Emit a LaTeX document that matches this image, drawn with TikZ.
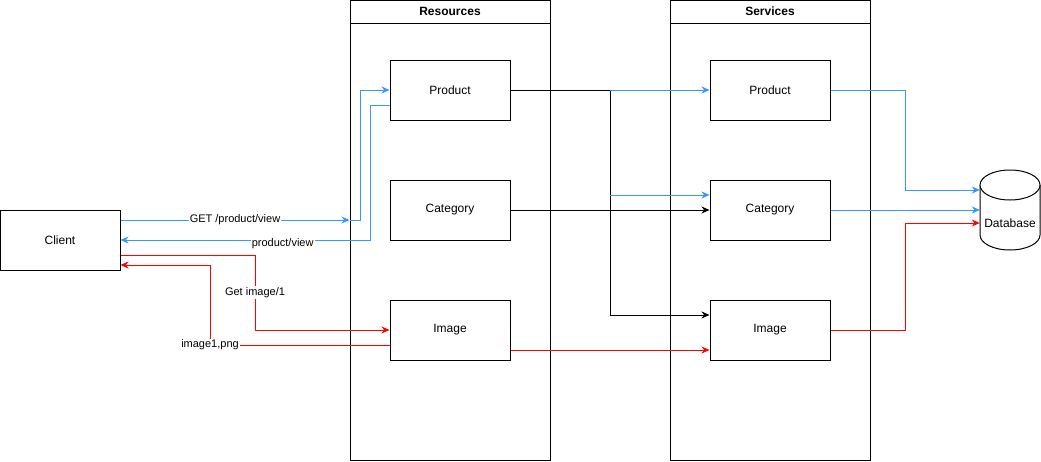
\documentclass[tikz,border=0pt]{standalone}
\usepackage{fontspec}
\setmainfont{Liberation Sans}
\usetikzlibrary{arrows.meta}
\definecolor{reqblue}{RGB}{51,153,255}
\definecolor{imgred}{RGB}{255,0,0}
\tikzset{
    box/.style = {draw, line width=1pt, minimum width=120pt, minimum height=60pt, inner sep=0pt, font=\fontsize{12}{14}\selectfont},
    pool/.style = {draw, line width=1pt, minimum width=200pt, minimum height=460pt, inner sep=0pt},
    poolhead/.style = {draw, line width=1pt, minimum width=200pt, minimum height=23pt, inner sep=0pt, font=\fontsize{12}{14}\selectfont\bfseries},
    lbl/.style = {fill=white, inner sep=1pt, font=\fontsize{11}{13}\selectfont},
    conn/.style = {line width=1pt, -{Stealth[length=8pt,width=7pt]}},
    bluel/.style = {conn, draw=reqblue, -{Stealth[length=8pt,width=7pt,reqblue]}},
    redl/.style = {conn, draw=imgred, -{Stealth[length=8pt,width=7pt,imgred]}},
    blackl/.style = {conn, draw=black}
}
\begin{document}
\begin{tikzpicture}[x=1pt, y=1pt]
    \useasboundingbox (0,0) rectangle (1041,-461);
    % lanes
    \node[pool] (res) at (450,-230) {};
    \node[poolhead, anchor=north] (reshead) at (res.north) {Resources};
    \node[pool] (svc) at (770,-230) {};
    \node[poolhead, anchor=north] (svchead) at (svc.north) {Services};
    % boxes
    \node[box] (client) at (60,-240) {Client};
    \node[box] (rprod) at (450,-90) {Product};
    \node[box] (rcat) at (450,-210) {Category};
    \node[box] (rimg) at (450,-330) {Image};
    \node[box] (sprod) at (770,-90) {Product};
    \node[box] (scat) at (770,-210) {Category};
    \node[box] (simg) at (770,-330) {Image};
    % database
    \node[minimum width=60pt, minimum height=80pt, inner sep=0pt] (db) at (1010,-210) {};
    \draw[line width=1pt] (980,-185) -- (980,-235) arc[start angle=180, end angle=360, x radius=30, y radius=15] -- (1040,-185);
    \draw[line width=1pt, fill=white] (1010,-185) ellipse[x radius=30, y radius=15];
    \node[font=\fontsize{12}{14}\selectfont] (dblabel) at (1010,-223) {Database};
    % client <-> resources
    \coordinate (getin) at (res.west |- 0,-220);
    \draw[bluel] ([yshift=20pt]client.east) -- node[lbl] {GET /product/view} (getin);
    \draw[bluel] (getin) -- (360,-220) |- (rprod.west);
    \draw[bluel] ([yshift=-15pt]rprod.west) -- (370,-105) -- (370,-240) -- node[lbl, pos=0.35, yshift=-4pt] {product/view} (client.east);
    \draw[redl] ([yshift=-15pt]client.east) -- (255,-255) -- node[lbl] {Get image/1} (255,-330) -- (rimg.west);
    \draw[redl] ([yshift=-15pt]rimg.west) -- node[lbl, pos=1] {image1,png} (210,-345) -- (210,-265) -- ([yshift=-25pt]client.east);
    % resources -> services
    \coordinate (split) at (610,-90);
    \draw[blackl] (rprod.east) -- (split) -- (610,-315) -- ([yshift=15pt]simg.west);
    \draw[bluel] (split) -- (sprod.west);
    \draw[bluel] (610,-195) -- ([yshift=15pt]scat.west);
    \draw[blackl] (rcat.east) -- (scat.west);
    \draw[redl] ([yshift=-20pt]rimg.east) -- ([yshift=-20pt]simg.west);
    % services -> database
    \draw[bluel] (sprod.east) -- (905,-90) |- ([yshift=20pt]db.west);
    \draw[bluel] (scat.east) -- (db.west);
    \draw[redl] (simg.east) -- (905,-330) |- ([yshift=-13pt]db.west);
\end{tikzpicture}
\end{document}
